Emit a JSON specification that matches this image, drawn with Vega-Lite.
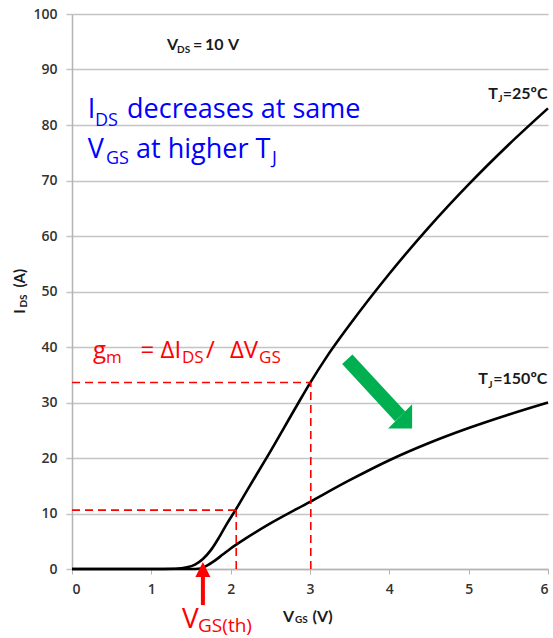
{
  "$schema": "https://vega.github.io/schema/vega-lite/v6.json",
  "width": 476,
  "height": 555,
  "autosize": {"type": "none"},
  "padding": {"left": 72, "top": 14, "right": 5, "bottom": 69},
  "config": {"view": {"stroke": null}, "font": "Lato", "background": "white"},
  "datasets": {
    "curves": [
      {"s": "25", "x": 0, "y": 0}, {"s": "25", "x": 1.0, "y": 0}, {"s": "25", "x": 1.3, "y": 0.05},
      {"s": "25", "x": 1.45, "y": 0.3}, {"s": "25", "x": 1.55, "y": 0.8}, {"s": "25", "x": 1.65, "y": 1.8},
      {"s": "25", "x": 1.75, "y": 3.4}, {"s": "25", "x": 1.85, "y": 5.6}, {"s": "25", "x": 1.95, "y": 8.1},
      {"s": "25", "x": 2.06, "y": 10.6}, {"s": "25", "x": 2.2, "y": 14.0}, {"s": "25", "x": 2.46, "y": 20.2},
      {"s": "25", "x": 2.84, "y": 29.6}, {"s": "25", "x": 3.0, "y": 33.5}, {"s": "25", "x": 3.2, "y": 38.0},
      {"s": "25", "x": 3.5, "y": 44.0}, {"s": "25", "x": 4.0, "y": 53.2}, {"s": "25", "x": 4.5, "y": 61.6},
      {"s": "25", "x": 5.0, "y": 69.3}, {"s": "25", "x": 5.5, "y": 76.4}, {"s": "25", "x": 6.0, "y": 83},
      {"s": "150", "x": 0, "y": 0}, {"s": "150", "x": 1.0, "y": 0}, {"s": "150", "x": 1.5, "y": 0},
      {"s": "150", "x": 1.62, "y": 0.1}, {"s": "150", "x": 1.7, "y": 0.6}, {"s": "150", "x": 1.8, "y": 1.5},
      {"s": "150", "x": 1.9, "y": 2.6}, {"s": "150", "x": 2.0, "y": 3.7}, {"s": "150", "x": 2.2, "y": 5.6},
      {"s": "150", "x": 2.5, "y": 8.2}, {"s": "150", "x": 3.0, "y": 12.1},
      {"s": "150", "x": 3.5, "y": 16.0}, {"s": "150", "x": 4.0, "y": 19.6}, {"s": "150", "x": 4.5, "y": 22.7},
      {"s": "150", "x": 5.0, "y": 25.4}, {"s": "150", "x": 5.5, "y": 27.8}, {"s": "150", "x": 6.0, "y": 30}
    ],
    "dashes": [
      {"x": 0, "y": 10.6, "x2": 2.07, "y2": 10.6},
      {"x": 2.07, "y": 0, "x2": 2.07, "y2": 10.6},
      {"x": 0, "y": 33.6, "x2": 3.01, "y2": 33.6},
      {"x": 3.01, "y": 0, "x2": 3.01, "y2": 33.6}
    ],
    "redShaft": [{"x": 1.65, "y": -6.5, "x2": 1.65, "y2": -1.3}],
    "redHead": [{"x": 1.65, "y": -0.1}],
    "greenShaft": [{"x": 3.47, "y": 37.8, "x2": 4.136, "y2": 27.5}],
    "greenHead": [{"x": 4.136, "y": 27.5}],
    "blueMain": [
      {"x": 0.2, "y": 81.3, "t": "I"},
      {"x": 0.694, "y": 81.3, "t": "decreases at same"},
      {"x": 0.2, "y": 74.1, "t": "V"},
      {"x": 0.807, "y": 74.1, "t": "at higher T"}
    ],
    "blueSub": [
      {"x": 0.29, "y": 79.9, "t": "DS"},
      {"x": 0.429, "y": 73.0, "t": "GS"},
      {"x": 2.52, "y": 73.0, "t": "J"}
    ],
    "redMainLeft": [
      {"x": 0.265, "y": 37.95, "t": "g"},
      {"x": 1.69, "y": 37.95, "t": "/"}
    ],
    "redMainRight": [
      {"x": 1.375, "y": 37.95, "t": "= ΔI"},
      {"x": 2.346, "y": 37.95, "t": "ΔV"}
    ],
    "redSub": [
      {"x": 0.429, "y": 37.2, "t": "m"},
      {"x": 1.387, "y": 37.2, "t": "DS"},
      {"x": 2.358, "y": 37.2, "t": "GS"}
    ],
    "thMain": [{"x": 1.387, "y": -10.6, "t": "V"}],
    "thSub": [{"x": 1.589, "y": -11.3, "t": "GS(th)"}],
    "blackMain": [
      {"x": 5.248, "y": 84.7, "t": "T"},
      {"x": 5.43, "y": 84.7, "t": "=25ºC"},
      {"x": 5.12, "y": 33.3, "t": "T"},
      {"x": 5.31, "y": 33.3, "t": "=150ºC"},
      {"x": 1.198, "y": 93.5, "t": "V"},
      {"x": 1.526, "y": 93.5, "t": "="},
      {"x": 1.677, "y": 93.5, "t": "10"},
      {"x": 1.967, "y": 93.5, "t": "V"},
      {"x": 2.66, "y": -9.5, "t": "V"},
      {"x": 3.03, "y": -9.5, "t": "(V)"}
    ],
    "blackSub": [
      {"x": 5.374, "y": 84.2, "t": "J"},
      {"x": 5.248, "y": 32.7, "t": "J"},
      {"x": 1.324, "y": 93.0, "t": "DS"},
      {"x": 2.81, "y": -9.7, "t": "GS"}
    ],
    "yTitleMain": [
      {"x": -0.593, "y": 46.0, "t": "I"},
      {"x": -0.593, "y": 50.7, "t": "(A)"}
    ],
    "yTitleSub": [{"x": -0.567, "y": 47.1, "t": "DS"}]
  },
  "encoding": {
    "x": {
      "field": "x", "type": "quantitative",
      "scale": {"domain": [0, 6], "nice": false, "zero": false},
      "axis": {
        "title": null, "values": [0, 1, 2, 3, 4, 5, 6], "grid": false,
        "domainColor": "#b4b4b4", "tickColor": "#b4b4b4", "tickSize": 5, "domainWidth": 1.5,
        "labelFont": "Open Sans", "labelFontSize": 14, "labelFontWeight": 600, "labelColor": "#333333", "labelPadding": 8
      }
    },
    "y": {
      "field": "y", "type": "quantitative",
      "scale": {"domain": [0, 100], "nice": false, "zero": false},
      "axis": {
        "title": null, "values": [0, 10, 20, 30, 40, 50, 60, 70, 80, 90, 100], "grid": true,
        "gridColor": "#c4c4c4", "gridWidth": 1.5, "domainColor": "#b4b4b4", "domainWidth": 1.5,
        "tickColor": "#c4c4c4", "tickSize": 6, "tickWidth": 1.5,
        "labelFont": "Open Sans", "labelFontSize": 14, "labelFontWeight": 600, "labelColor": "#333333", "labelPadding": 9
      }
    }
  },
  "layer": [
    {
      "data": {"name": "curves"},
      "mark": {"type": "line", "color": "black", "strokeWidth": 2.6, "interpolate": "monotone"},
      "encoding": {"detail": {"field": "s"}}
    },
    {
      "data": {"name": "dashes"},
      "mark": {"type": "rule", "color": "#ff0000", "strokeWidth": 1.6, "strokeDash": [8, 5]},
      "encoding": {"x2": {"field": "x2"}, "y2": {"field": "y2"}}
    },
    {
      "data": {"name": "redShaft"},
      "mark": {"type": "rule", "color": "#ff0000", "strokeWidth": 4, "strokeCap": "butt"},
      "encoding": {"x2": {"field": "x2"}, "y2": {"field": "y2"}}
    },
    {
      "data": {"name": "redHead"},
      "mark": {"type": "point", "shape": "M-1,1L0,-1L1,1Z", "filled": true, "color": "#ff0000", "size": 225, "opacity": 1}
    },
    {
      "data": {"name": "greenShaft"},
      "mark": {"type": "rule", "color": "#00b050", "strokeWidth": 14, "strokeCap": "butt"},
      "encoding": {"x2": {"field": "x2"}, "y2": {"field": "y2"}}
    },
    {
      "data": {"name": "greenHead"},
      "mark": {"type": "point", "shape": "M-1,0L0,-1L1,0Z", "filled": true, "color": "#00b050", "size": 1156, "angle": 135, "opacity": 1}
    },
    {
      "data": {"name": "blueMain"},
      "mark": {"type": "text", "align": "left", "baseline": "alphabetic", "font": "Open Sans", "fontSize": 27, "color": "#0000ff"},
      "encoding": {"text": {"field": "t"}}
    },
    {
      "data": {"name": "blueSub"},
      "mark": {"type": "text", "align": "left", "baseline": "alphabetic", "font": "Open Sans", "fontSize": 18, "color": "#0000ff"},
      "encoding": {"text": {"field": "t"}}
    },
    {
      "data": {"name": "redMainLeft"},
      "mark": {"type": "text", "align": "left", "baseline": "alphabetic", "font": "Open Sans", "fontSize": 24, "color": "#ff0000"},
      "encoding": {"text": {"field": "t"}}
    },
    {
      "data": {"name": "redMainRight"},
      "mark": {"type": "text", "align": "right", "baseline": "alphabetic", "font": "Open Sans", "fontSize": 24, "color": "#ff0000"},
      "encoding": {"text": {"field": "t"}}
    },
    {
      "data": {"name": "redSub"},
      "mark": {"type": "text", "align": "left", "baseline": "alphabetic", "font": "Open Sans", "fontSize": 17, "color": "#ff0000"},
      "encoding": {"text": {"field": "t"}}
    },
    {
      "data": {"name": "thMain"},
      "mark": {"type": "text", "align": "left", "baseline": "alphabetic", "font": "Open Sans", "fontSize": 28, "color": "#ff0000"},
      "encoding": {"text": {"field": "t"}}
    },
    {
      "data": {"name": "thSub"},
      "mark": {"type": "text", "align": "left", "baseline": "alphabetic", "font": "Open Sans", "fontSize": 19, "color": "#ff0000"},
      "encoding": {"text": {"field": "t"}}
    },
    {
      "data": {"name": "blackMain"},
      "mark": {"type": "text", "align": "left", "baseline": "alphabetic", "font": "Lato", "fontSize": 16, "fontWeight": "bold", "color": "#1a1a1a"},
      "encoding": {"text": {"field": "t"}}
    },
    {
      "data": {"name": "blackSub"},
      "mark": {"type": "text", "align": "left", "baseline": "alphabetic", "font": "Lato", "fontSize": 10, "fontWeight": "bold", "color": "#1a1a1a"},
      "encoding": {"text": {"field": "t"}}
    },
    {
      "data": {"name": "yTitleMain"},
      "mark": {"type": "text", "align": "left", "baseline": "alphabetic", "angle": 270, "font": "Lato", "fontSize": 15, "fontWeight": "bold", "color": "#1a1a1a"},
      "encoding": {"text": {"field": "t"}}
    },
    {
      "data": {"name": "yTitleSub"},
      "mark": {"type": "text", "align": "left", "baseline": "alphabetic", "angle": 270, "font": "Lato", "fontSize": 10, "fontWeight": "bold", "color": "#1a1a1a"},
      "encoding": {"text": {"field": "t"}}
    }
  ]
}
